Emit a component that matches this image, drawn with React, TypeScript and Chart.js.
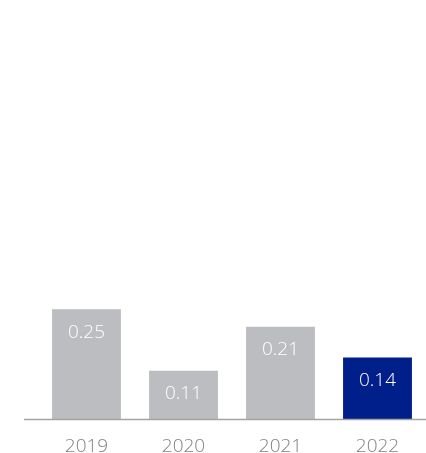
import React, { useEffect, useRef } from "react";
import { Chart, registerables } from "chart.js";

Chart.register(...registerables);

const categories = ["2019", "2020", "2021", "2022"];
const values = [0.25, 0.11, 0.21, 0.14];
const valueLabels = ["0.25", "0.11", "0.21", "0.14"];
const barColors = ["#bcbdc0", "#bcbdc0", "#bcbdc0", "#001f8b"];

const FONT = "'Open Sans', 'Lato', sans-serif";

const overlay = {
  id: "overlay",
  afterDatasetsDraw(chart: any) {
    const ctx = chart.ctx;
    const area = chart.chartArea;
    ctx.save();
    ctx.strokeStyle = "#a3a3a3";
    ctx.lineWidth = 1.5;
    ctx.beginPath();
    ctx.moveTo(24, area.bottom + 0.5);
    ctx.lineTo(chart.width, area.bottom + 0.5);
    ctx.stroke();
    const meta = chart.getDatasetMeta(0);
    ctx.fillStyle = "#ffffff";
    ctx.font = `300 19px ${FONT}`;
    ctx.textAlign = "center";
    ctx.textBaseline = "middle";
    meta.data.forEach((bar: any, i: number) => {
      ctx.fillText(valueLabels[i], bar.x, bar.y + 23);
    });
    ctx.restore();
  },
};

export default function App() {
  const ref = useRef<HTMLCanvasElement>(null);
  useEffect(() => {
    if (!ref.current) return;
    const chart = new Chart(ref.current, {
      type: "bar",
      data: {
        labels: categories,
        datasets: [
          {
            data: values,
            backgroundColor: barColors,
            borderWidth: 0,
            barPercentage: 0.71,
            categoryPercentage: 1,
          },
        ],
      },
      options: {
        animation: false,
        responsive: false,
        layout: { padding: { top: 23.5, left: 38, right: 0, bottom: 0 } },
        plugins: { legend: { display: false }, tooltip: { enabled: false } },
        scales: {
          x: {
            grid: { display: false },
            border: { display: false },
            ticks: {
              color: "#808080",
              font: { family: FONT, size: 19, weight: "300", lineHeight: 1 },
              padding: 10,
            },
          },
          y: { display: false, min: 0, max: 0.9 },
        },
      },
      plugins: [overlay],
    });
    return () => chart.destroy();
  }, []);
  return (
    <div style={{ position: "fixed", left: 0, top: 0, width: 426, height: 453, overflow: "hidden", background: "#fff" }}>
      <canvas ref={ref} width={426} height={466} />
    </div>
  );
}
